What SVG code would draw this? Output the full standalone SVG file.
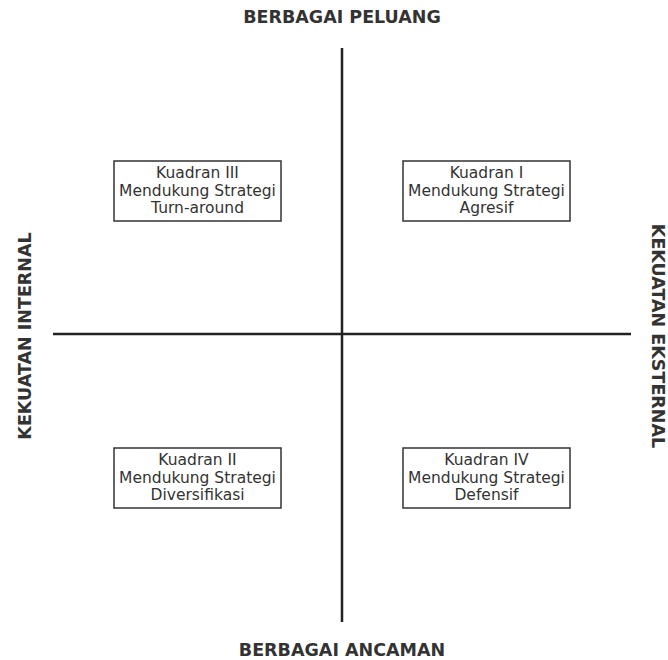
<svg xmlns="http://www.w3.org/2000/svg" width="668" height="660" viewBox="0 0 668 660">
  <style>
    .axis { stroke: #222; stroke-width: 2.5; fill: none; }
    .box rect { fill: #fff; stroke: #333; stroke-width: 1.5; }
    .box text { font-family: "DejaVu Sans", sans-serif; font-size: 15.5px; fill: #333; text-anchor: middle; }
    .label { font-family: "DejaVu Sans", sans-serif; font-size: 17.5px; font-weight: bold; fill: #333; text-anchor: middle; }
  </style>
  <rect width="668" height="660" fill="#fff"/>

  <!-- axes -->
  <g id="axes">
    <line class="axis" x1="342" y1="48" x2="342" y2="622"/>
    <line class="axis" x1="53" y1="334" x2="631" y2="334"/>
  </g>

  <!-- axis labels -->
  <g id="axis-labels">
    <text class="label" x="342" y="23">BERBAGAI PELUANG</text>
    <text class="label" x="342" y="656">BERBAGAI ANCAMAN</text>
    <text class="label" transform="translate(31,336) rotate(-90)">KEKUATAN INTERNAL</text>
    <text class="label" transform="translate(652,336) rotate(90)">KEKUATAN EKSTERNAL</text>
  </g>

  <g id="kuadran-3" class="box">
    <rect x="114" y="161" width="167" height="60"/>
    <text x="197.5" y="178">Kuadran III</text>
    <text x="197.5" y="196">Mendukung Strategi</text>
    <text x="197.5" y="213">Turn-around</text>
  </g>

  <g id="kuadran-1" class="box">
    <rect x="403" y="161" width="167" height="60"/>
    <text x="486.5" y="178">Kuadran I</text>
    <text x="486.5" y="196">Mendukung Strategi</text>
    <text x="486.5" y="213">Agresif</text>
  </g>

  <g id="kuadran-2" class="box">
    <rect x="114" y="448" width="167" height="60"/>
    <text x="197.5" y="465">Kuadran II</text>
    <text x="197.5" y="483">Mendukung Strategi</text>
    <text x="197.5" y="500">Diversifikasi</text>
  </g>

  <g id="kuadran-4" class="box">
    <rect x="403" y="448" width="167" height="60"/>
    <text x="486.5" y="465">Kuadran IV</text>
    <text x="486.5" y="483">Mendukung Strategi</text>
    <text x="486.5" y="500">Defensif</text>
  </g>
</svg>
